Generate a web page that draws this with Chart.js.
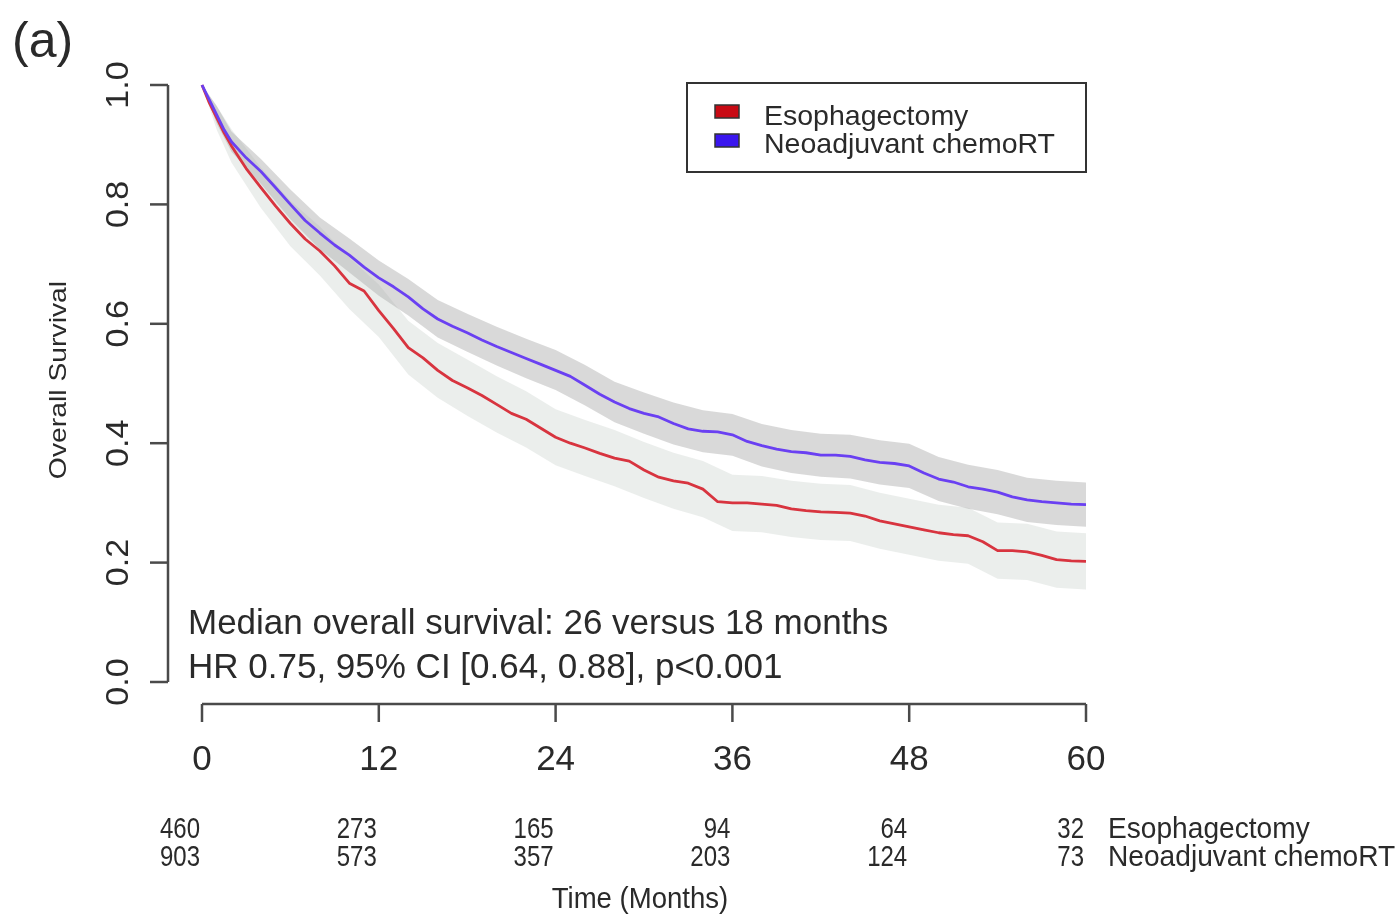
<!DOCTYPE html>
<html>
<head>
<meta charset="utf-8">
<script src="https://cdn.jsdelivr.net/npm/chart.js@4.4.1/dist/chart.umd.min.js"></script>
<style>
html,body{margin:0;padding:0;background:#fff;}
#wrap{width:1397px;height:917px;position:relative;}
</style>
</head>
<body>
<div id="wrap"><canvas id="c" width="1397" height="917"></canvas></div>
<script>
// ---------- data ----------
const groups = ['Esophagectomy', 'Neoadjuvant chemoRT'];
const months = [0,0.5,1,1.5,2,3,4,5,6,7,8,9,10,11,12,13,14,15,16,17,18,19,20,21,22,23,24,25,26,27,28,29,30,31,32,33,34,35,36,37,38,39,40,41,42,43,44,45,46,47,48,49,50,51,52,53,54,55,56,57,58,59,60];
const survEso = [1.0,0.97,0.945,0.92,0.898,0.86,0.828,0.797,0.768,0.742,0.722,0.697,0.668,0.655,0.622,0.592,0.560,0.543,0.522,0.505,0.493,0.480,0.465,0.450,0.440,0.425,0.410,0.400,0.392,0.383,0.375,0.370,0.355,0.343,0.337,0.333,0.323,0.302,0.300,0.300,0.298,0.296,0.290,0.287,0.285,0.284,0.283,0.278,0.270,0.265,0.260,0.255,0.250,0.247,0.245,0.235,0.220,0.220,0.218,0.212,0.205,0.203,0.202];
const survNeo = [1.0,0.975,0.95,0.925,0.905,0.878,0.855,0.828,0.800,0.773,0.752,0.732,0.715,0.695,0.677,0.662,0.645,0.625,0.608,0.596,0.585,0.573,0.562,0.552,0.542,0.532,0.522,0.512,0.497,0.482,0.469,0.458,0.450,0.444,0.433,0.424,0.420,0.419,0.414,0.403,0.396,0.390,0.386,0.384,0.380,0.380,0.378,0.372,0.368,0.366,0.362,0.350,0.340,0.335,0.327,0.323,0.318,0.310,0.305,0.302,0.300,0.298,0.297];

const ciMonths = [0,1,2,4,6,8,10,12,14,16,18,20,22,24,26,28,30,32,34,36,38,40,42,44,46,48,50,52,54,56,58,60];
const neoUpper = [1.0,0.965,0.922,0.876,0.825,0.778,0.743,0.706,0.675,0.640,0.617,0.595,0.575,0.556,0.531,0.503,0.485,0.468,0.455,0.449,0.432,0.422,0.416,0.414,0.405,0.399,0.377,0.364,0.355,0.342,0.337,0.334];
const neoLower = [1.0,0.935,0.888,0.834,0.775,0.725,0.686,0.647,0.614,0.577,0.553,0.530,0.509,0.489,0.463,0.435,0.416,0.398,0.385,0.379,0.361,0.350,0.344,0.341,0.331,0.325,0.303,0.290,0.281,0.268,0.263,0.260];
const esoUpper = [1.0,0.965,0.926,0.862,0.806,0.763,0.711,0.666,0.605,0.568,0.540,0.512,0.487,0.457,0.439,0.422,0.402,0.384,0.370,0.347,0.345,0.337,0.332,0.330,0.317,0.307,0.297,0.292,0.267,0.265,0.252,0.249];
const esoLower = [1.0,0.925,0.870,0.794,0.730,0.681,0.625,0.578,0.515,0.476,0.446,0.418,0.393,0.363,0.345,0.328,0.308,0.290,0.276,0.253,0.251,0.243,0.238,0.236,0.223,0.213,0.203,0.198,0.173,0.171,0.158,0.155];

const xTicks = [0,12,24,36,48,60];
const yTicks = [0,0.2,0.4,0.6,0.8,1.0];
const yTickLabels = ['0.0','0.2','0.4','0.6','0.8','1.0'];
const riskEso = [460,273,165,94,64,32];
const riskNeo = [903,573,357,203,124,73];
const panelLabel = '(a)';
const yTitle = 'Overall Survival';
const xTitle = 'Time (Months)';
const note1 = 'Median overall survival: 26 versus 18 months';
const note2 = 'HR 0.75, 95% CI [0.64, 0.88], p<0.001';

// ---------- helpers ----------
const pts = (xs, ys) => xs.map((x, i) => ({x: x, y: ys[i]}));
const FONT = '"Liberation Sans", Arial, sans-serif';
const TXT = '#2a2a2a';

function drawText(ctx, text, x, y, o) {
  ctx.save();
  ctx.translate(x, y);
  if (o.rotate) ctx.rotate(-Math.PI / 2);
  ctx.scale(o.sx || 1, 1);
  ctx.font = (o.size) + 'px ' + FONT;
  ctx.fillStyle = o.color || TXT;
  ctx.textAlign = o.align || 'left';
  ctx.textBaseline = 'alphabetic';
  ctx.fillText(text, 0, 0);
  ctx.restore();
}

const decor = {
  id: 'decor',
  afterDraw(chart) {
    const ctx = chart.ctx;
    const xs = chart.scales.x, ys = chart.scales.y;
    const axisColor = '#4a4a4a';
    ctx.save();
    ctx.strokeStyle = axisColor;
    ctx.lineWidth = 2.5;
    ctx.lineCap = 'butt';
    // y axis (detached, R style)
    const yAxX = 168;
    ctx.beginPath();
    ctx.moveTo(yAxX, ys.getPixelForValue(0));
    ctx.lineTo(yAxX, ys.getPixelForValue(1));
    ctx.stroke();
    yTicks.forEach((v, i) => {
      const py = ys.getPixelForValue(v);
      ctx.beginPath();
      ctx.moveTo(yAxX, py);
      ctx.lineTo(yAxX - 18, py);
      ctx.stroke();
      drawText(ctx, yTickLabels[i], 128, py, {size: 31, sx: 1.1, rotate: true, align: 'center'});
    });
    // x axis
    const xAxY = 704;
    ctx.beginPath();
    ctx.moveTo(xs.getPixelForValue(0), xAxY);
    ctx.lineTo(xs.getPixelForValue(60), xAxY);
    ctx.stroke();
    xTicks.forEach((v, i) => {
      const px = xs.getPixelForValue(v);
      ctx.beginPath();
      ctx.moveTo(px, xAxY);
      ctx.lineTo(px, xAxY + 18);
      ctx.stroke();
      drawText(ctx, String(v), px, 770, {size: 35, align: 'center'});
      drawText(ctx, String(riskEso[i]), px - 2, 838, {size: 30, sx: 0.8, align: 'right'});
      drawText(ctx, String(riskNeo[i]), px - 2, 866, {size: 30, sx: 0.8, align: 'right'});
    });
    drawText(ctx, groups[0], 1108, 838, {size: 29, sx: 0.97});
    drawText(ctx, groups[1], 1108, 866, {size: 29, sx: 0.97});
    drawText(ctx, xTitle, 640, 908, {size: 29, sx: 0.95, align: 'center'});
    // titles
    drawText(ctx, yTitle, 66, 380, {size: 24, sx: 1.18, rotate: true, align: 'center'});
    drawText(ctx, panelLabel, 12, 57, {size: 50});
    // annotations
    drawText(ctx, note1, 188, 634, {size: 35});
    drawText(ctx, note2, 188, 678, {size: 35});
    // legend
    ctx.lineWidth = 2;
    ctx.strokeStyle = '#333';
    ctx.strokeRect(687, 83, 399, 89);
    const fills = ['#c80a14', '#3a16ee'];
    [105, 134].forEach((ty, i) => {
      ctx.fillStyle = fills[i];
      ctx.fillRect(715, ty, 24, 13);
      ctx.lineWidth = 1.5;
      ctx.strokeStyle = '#333';
      ctx.strokeRect(715, ty, 24, 13);
    });
    drawText(ctx, groups[0], 764, 125, {size: 28.5});
    drawText(ctx, groups[1], 764, 153, {size: 28.5});
    ctx.restore();
  }
};

new Chart(document.getElementById('c'), {
  type: 'line',
  data: {
    datasets: [
      {label: groups[1], data: pts(months, survNeo), borderColor: '#6a40f2', borderWidth: 2.8, pointRadius: 0, fill: false, order: 0, clip: false},
      {label: groups[0], data: pts(months, survEso), borderColor: '#d8343f', borderWidth: 2.8, pointRadius: 0, fill: false, order: 1, clip: false},
      {label: 'neoU', data: pts(ciMonths, neoUpper), borderWidth: 0, borderColor: 'rgba(0,0,0,0)', pointRadius: 0, fill: false, order: 2},
      {label: 'neoL', data: pts(ciMonths, neoLower), borderWidth: 0, borderColor: 'rgba(0,0,0,0)', pointRadius: 0, fill: '-1', backgroundColor: 'rgba(175,175,175,0.48)', order: 2},
      {label: 'esoU', data: pts(ciMonths, esoUpper), borderWidth: 0, borderColor: 'rgba(0,0,0,0)', pointRadius: 0, fill: false, order: 3},
      {label: 'esoL', data: pts(ciMonths, esoLower), borderWidth: 0, borderColor: 'rgba(0,0,0,0)', pointRadius: 0, fill: '-1', backgroundColor: 'rgba(215,222,218,0.5)', order: 3}
    ]
  },
  options: {
    responsive: false,
    animation: false,
    layout: {padding: {left: 202, right: 311, top: 85, bottom: 235}},
    scales: {
      x: {type: 'linear', min: 0, max: 60, display: false},
      y: {type: 'linear', min: 0, max: 1, display: false}
    },
    plugins: {legend: {display: false}, tooltip: {enabled: false}},
    elements: {line: {tension: 0, borderJoinStyle: 'round'}}
  },
  plugins: [decor]
});
</script>
</body>
</html>
